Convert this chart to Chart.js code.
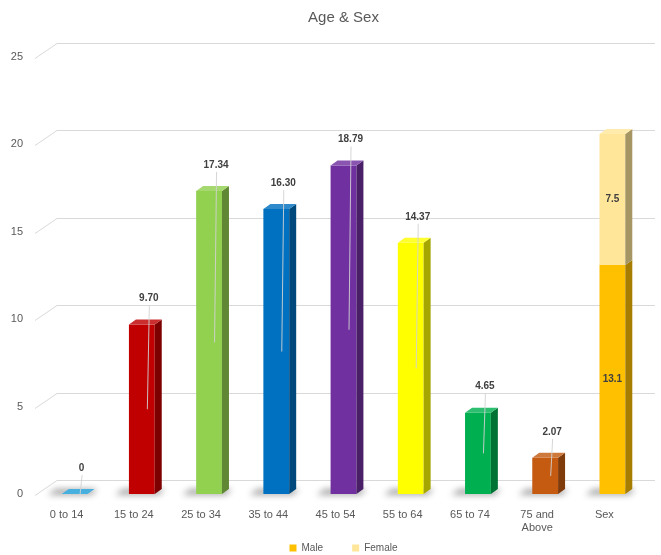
<!DOCTYPE html>
<html>
<head>
<meta charset="utf-8">
<title>Age & Sex</title>
<script src="https://cdn.jsdelivr.net/npm/chart.js@4"></script>
<style>
  html, body { margin: 0; padding: 0; background: #fff; }
  #wrap { width: 661px; height: 555px; }
</style>
</head>
<body>
<div id="wrap"><canvas id="ageSexChart"></canvas></div>
<script>
// chart values
const categories = ["0 to 14", "15 to 24", "25 to 34", "35 to 44", "45 to 54", "55 to 64", "65 to 74", ["75 and", "Above"], "Sex"];
const ageValues = [0, 9.70, 17.34, 16.30, 18.79, 14.37, 4.65, 2.07, null];
const maleValues = [null, null, null, null, null, null, null, null, 13.1];
const femaleValues = [null, null, null, null, null, null, null, null, 7.5];
const yTicks = [0, 5, 10, 15, 20, 25];

const ageColors = ["#1F9FD8", "#C00000", "#92D050", "#0070C0", "#7030A0", "#FFFF00", "#00B050", "#C55A11", "#FFC000"];
const FONT = "'Liberation Sans', Arial, sans-serif";

// darken (f < 0) or lighten (f > 0) a hex colour
function shade(hex, f) {
  const n = parseInt(hex.slice(1), 16);
  let c = [n >> 16, (n >> 8) & 255, n & 255];
  c = c.map(v => f < 0 ? v * (1 + f) : v + (255 - v) * f);
  return `rgb(${c.map(Math.round).join(",")})`;
}

// back wall grid with the little floor diagonals, like the Excel 3D chart
const wallGrid = {
  id: "wallGrid",
  beforeDatasetsDraw(chart) {
    const { ctx, chartArea, scales: { y } } = chart;
    ctx.save();
    ctx.strokeStyle = "#d9d9d9";
    ctx.lineWidth = 1;
    y.ticks.forEach(t => {
      const py = Math.round(y.getPixelForValue(t.value)) + 0.5;
      ctx.beginPath();
      ctx.moveTo(chartArea.left - 6, py + 1);
      ctx.lineTo(chartArea.left + 16, py - 14);
      ctx.lineTo(chart.width - 6, py - 14);
      ctx.stroke();
    });

    // soft floor shadows, one per category
    ctx.filter = "blur(3px)";
    ctx.fillStyle = "rgba(0,0,0,0.35)";
    const done = new Set();
    chart.data.datasets.forEach((ds, i) => {
      chart.getDatasetMeta(i).data.forEach((bar, j) => {
        if (ds.data[j] == null || done.has(j)) return;
        done.add(j);
        const { x, base, width } = bar.getProps(["x", "base", "width"], true);
        const l = x - width / 2, r = x + width / 2;
        ctx.beginPath();
        ctx.moveTo(l - 14, base + 1);
        ctx.lineTo(r + 4, base + 1);
        ctx.lineTo(r + 10, base - 5);
        ctx.lineTo(l - 6, base - 5);
        ctx.closePath();
        ctx.fill();
      });
    });
    ctx.restore();
  }
};

// side and top faces of the bars
const bar3d = {
  id: "bar3d",
  afterDatasetsDraw(chart) {
    const { ctx } = chart;
    const dx = 7, dy = 5;
    ctx.save();
    chart.data.datasets.forEach((ds, i) => {
      const meta = chart.getDatasetMeta(i);
      if (meta.hidden) return;
      meta.data.forEach((bar, j) => {
        if (ds.data[j] == null) return;
        const { x, y, base, width } = bar.getProps(["x", "y", "base", "width"], true);
        const left = x - width / 2, right = x + width / 2;
        const color = Array.isArray(ds.backgroundColor) ? ds.backgroundColor[j] : ds.backgroundColor;

        ctx.fillStyle = shade(color, -0.35);
        ctx.beginPath();
        ctx.moveTo(right, y);
        ctx.lineTo(right + dx, y - dy);
        ctx.lineTo(right + dx, base - dy);
        ctx.lineTo(right, base);
        ctx.closePath();
        ctx.fill();

        const covered = chart.data.datasets.some((o, k) =>
          k > i && o.data[j] != null && !chart.getDatasetMeta(k).hidden);
        if (!covered) {
          ctx.fillStyle = shade(color, 0.18);
          ctx.beginPath();
          ctx.moveTo(left, y);
          ctx.lineTo(left + dx, y - dy);
          ctx.lineTo(right + dx, y - dy);
          ctx.lineTo(right, y);
          ctx.closePath();
          ctx.fill();
        }
      });
    });
    ctx.restore();
  }
};

// value labels (no datalabels plugin offline, so drawn here)
const valueLabels = {
  id: "valueLabels",
  afterDatasetsDraw(chart) {
    const { ctx } = chart;
    ctx.save();
    ctx.font = "bold 10px " + FONT;
    ctx.textAlign = "center";
    ctx.textBaseline = "middle";
    chart.data.datasets.forEach((ds, i) => {
      const meta = chart.getDatasetMeta(i);
      if (meta.hidden) return;
      meta.data.forEach((bar, j) => {
        const v = ds.data[j];
        if (v == null) return;
        const { x, y, base } = bar.getProps(["x", "y", "base"], true);
        const text = v === 0 ? "0" : v.toFixed(ds.decimals);
        if (ds.labelInside) {
          ctx.fillStyle = "#404040";
          ctx.fillText(text, x, (y + base) / 2);
          return;
        }
        const lx = x + 7, ly = y - 26;
        ctx.strokeStyle = "rgba(210,210,210,0.9)";
        ctx.lineWidth = 1;
        ctx.beginPath();
        ctx.moveTo(lx + 0.5, ly + 7);
        ctx.lineTo(x + 5.5, (y + base) / 2);
        ctx.stroke();
        ctx.fillStyle = "#404040";
        ctx.fillText(text, lx, ly);
      });
    });
    ctx.restore();
  }
};

const ctx = document.getElementById("ageSexChart").getContext("2d");

new Chart(ctx, {
  type: "bar",
  data: {
    labels: categories,
    datasets: [
      {
        label: "Age",
        data: ageValues,
        backgroundColor: ageColors,
        decimals: 2
      },
      {
        label: "Male",
        data: maleValues,
        backgroundColor: "#FFC000",
        decimals: 1,
        labelInside: true
      },
      {
        label: "Female",
        data: femaleValues,
        backgroundColor: "#FFE699",
        decimals: 1,
        labelInside: true
      }
    ]
  },
  options: {
    responsive: true,
    maintainAspectRatio: false,
    animation: false,
    borderWidth: 0,
    categoryPercentage: 0.8,
    barPercentage: 0.48,
    layout: { padding: { right: 15 } },
    scales: {
      x: {
        stacked: true,
        grid: { display: false, drawTicks: false },
        border: { display: false },
        ticks: {
          color: "#595959",
          font: { family: FONT, size: 11 },
          padding: 14,
          labelOffset: -8,
          maxRotation: 0,
          autoSkip: false
        },
        afterFit: scale => { scale.height = 45; }
      },
      y: {
        stacked: true,
        min: 0,
        max: 25,
        grid: { display: false, drawTicks: false },
        border: { display: false },
        afterBuildTicks: scale => { scale.ticks = yTicks.map(v => ({ value: v })); },
        ticks: {
          color: "#595959",
          font: { family: FONT, size: 11 },
          padding: 18
        },
        afterFit: scale => { scale.width = 41; }
      }
    },
    plugins: {
      title: {
        display: true,
        text: "Age & Sex",
        fullSize: false,
        color: "#595959",
        font: { family: FONT, size: 15, weight: "normal" },
        padding: { top: 9, bottom: 30 }
      },
      legend: {
        position: "bottom",
        fullSize: false,
        maxHeight: 16,
        labels: {
          color: "#595959",
          font: { family: FONT, size: 10 },
          boxWidth: 7,
          boxHeight: 7,
          padding: 4,
          filter: item => item.text.trim() !== "Age",
          // wider gap between the two entries, as in the original
          generateLabels: chart =>
            Chart.defaults.plugins.legend.labels.generateLabels(chart).map(item =>
              item.text === "Male" ? { ...item, text: "Male         " } : item)
        }
      },
      tooltip: { enabled: false }
    }
  },
  plugins: [wallGrid, bar3d, valueLabels]
});
</script>
</body>
</html>
